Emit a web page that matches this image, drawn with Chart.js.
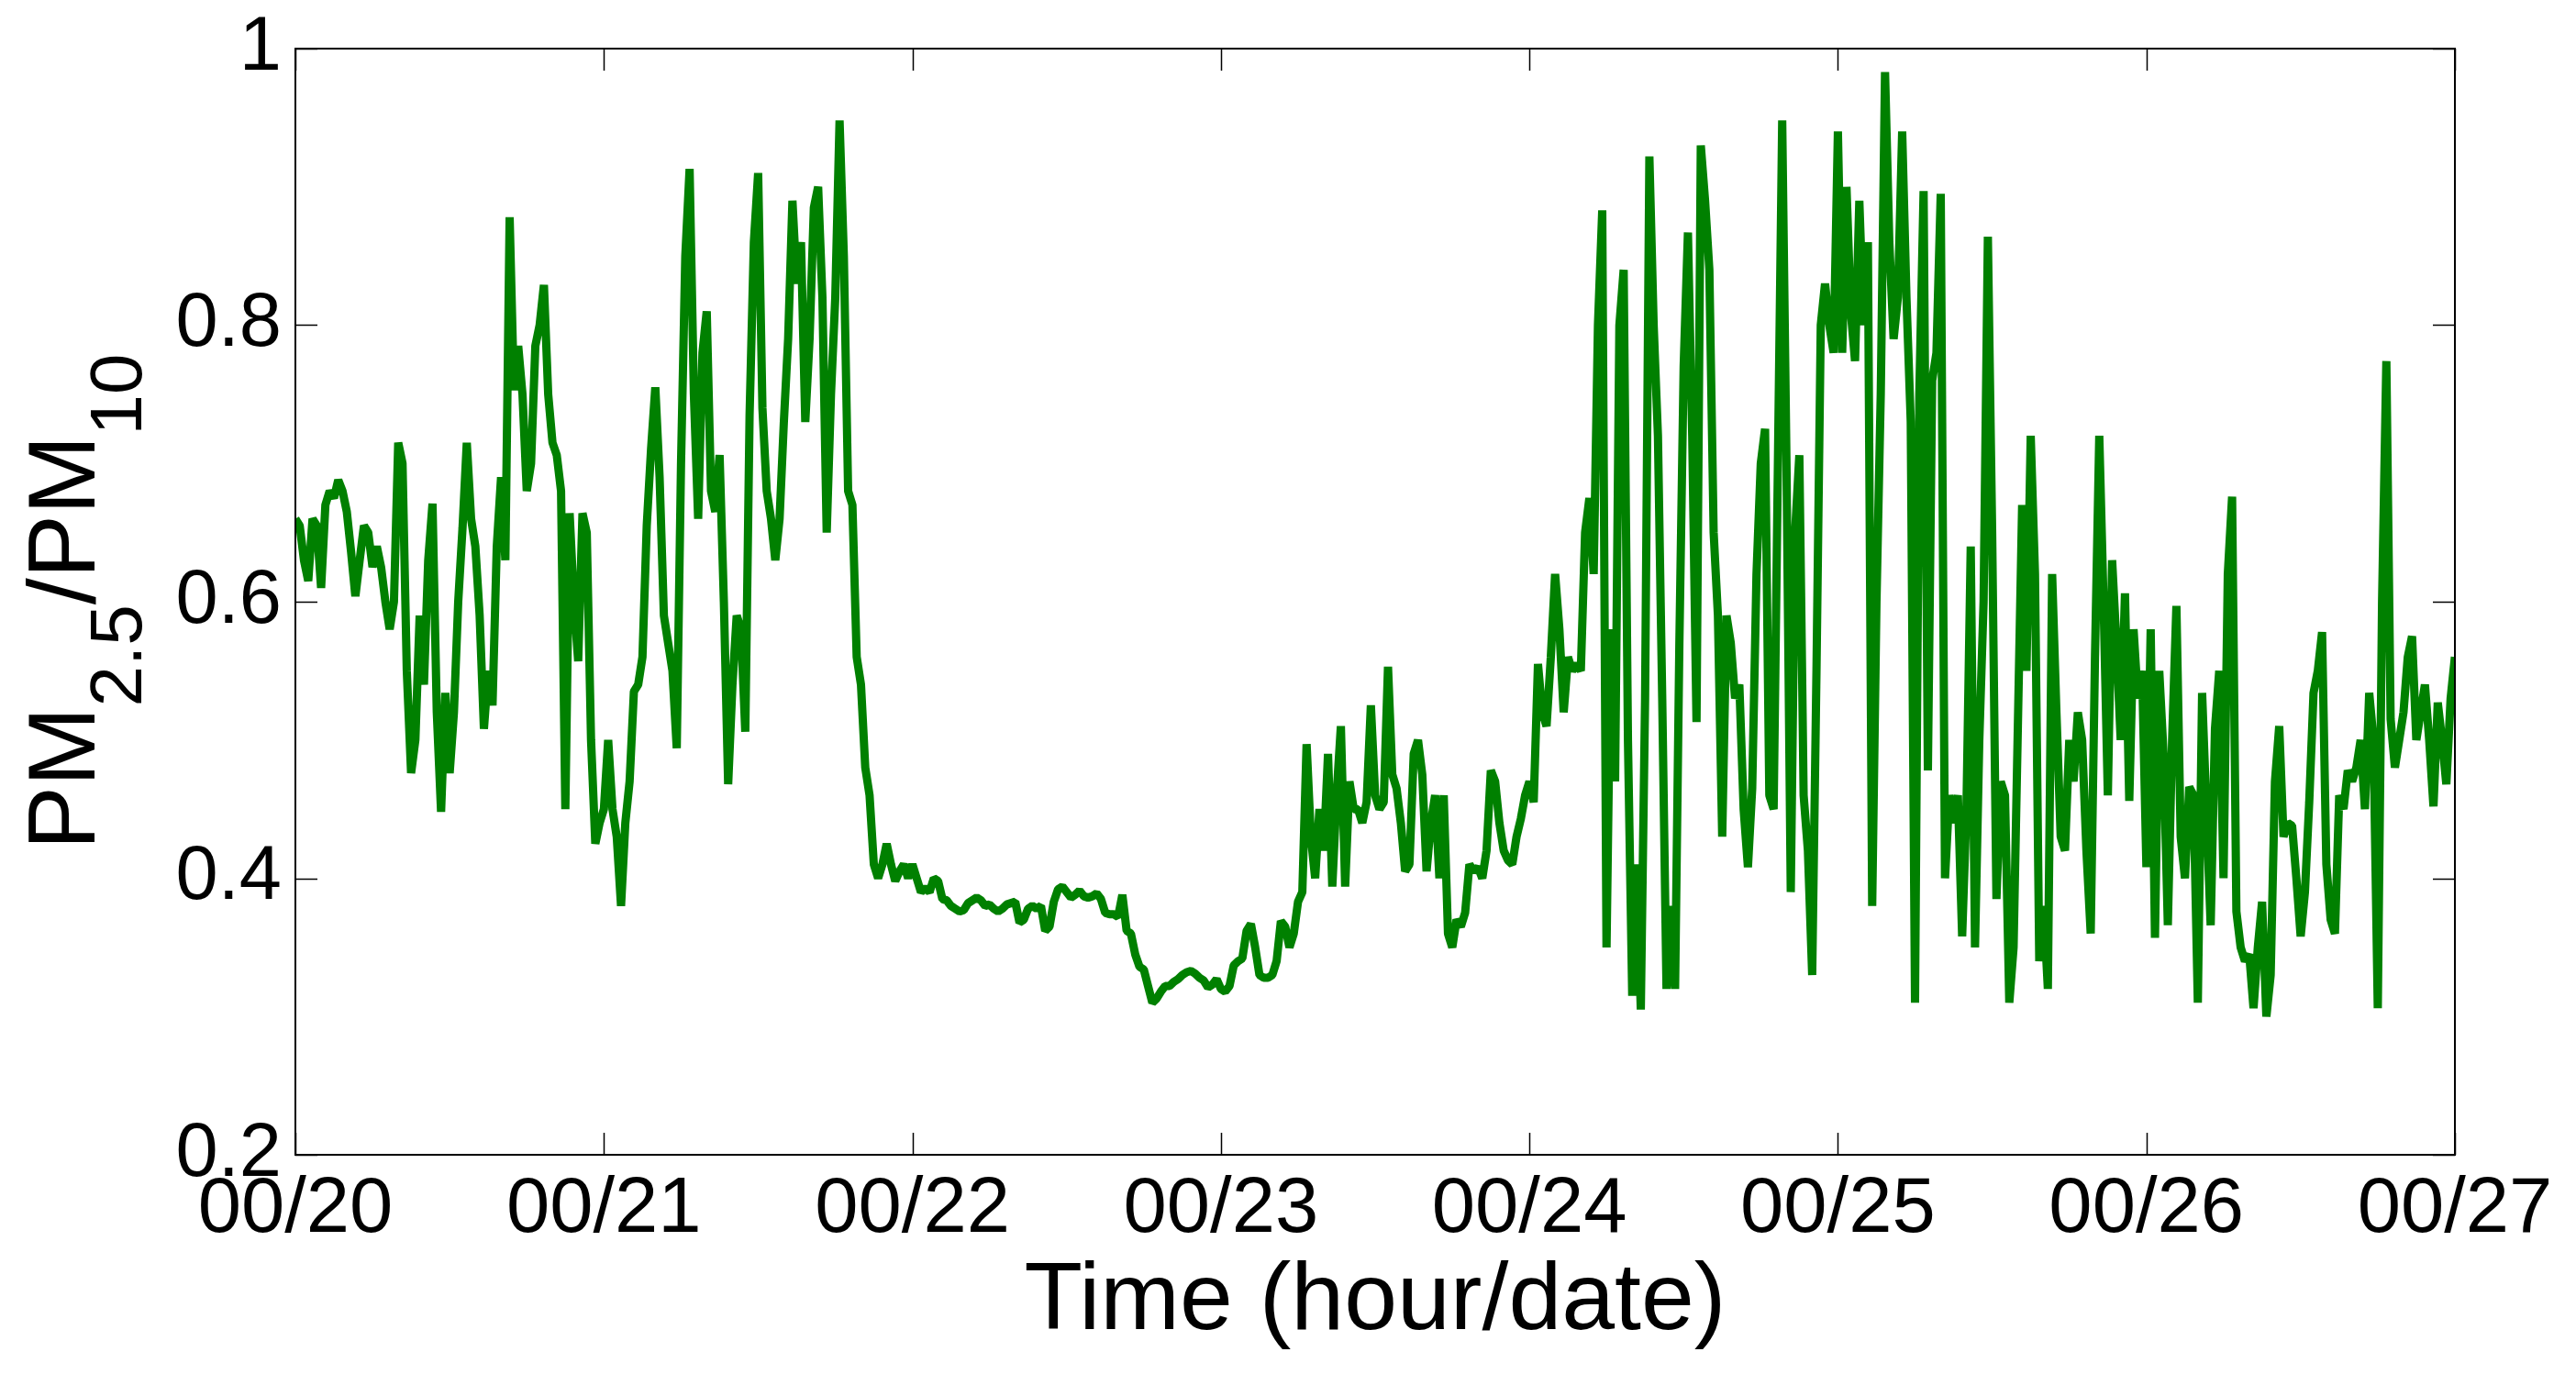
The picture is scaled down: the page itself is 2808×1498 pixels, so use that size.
<!DOCTYPE html>
<html>
<head>
<meta charset="utf-8">
<script src="https://cdn.jsdelivr.net/npm/chart.js@4.4.0/dist/chart.umd.min.js"></script>
<style>
  html, body { margin: 0; padding: 0; background: #fff; }
  #wrap { width: 2808px; height: 1498px; }
</style>
</head>
<body>
<div id="wrap"><canvas id="ratioChart"></canvas></div>
<script>
// PM2.5/PM10 every 20 min, one array per day (00:00 .. 23:40)
const day20 = [
  0.66,0.655,0.63,0.615,0.66,0.655,0.61,0.67,0.68,0.675,0.688,0.68,
  0.665,0.636,0.604,0.63,0.655,0.65,0.625,0.64,0.625,0.60,0.58,0.60,
  0.715,0.70,0.55,0.476,0.50,0.59,0.54,0.63,0.671,0.52,0.448,0.534,
  0.476,0.52,0.60,0.653,0.715,0.66,0.64,0.59,0.508,0.55,0.525,0.64,
  0.69,0.63,0.878,0.753,0.785,0.75,0.68,0.70,0.785,0.80,0.829,0.75,
  0.715,0.706,0.68,0.45,0.664,0.60,0.557,0.664,0.65,0.50,0.425,0.44];
const day21 = [
  0.45,0.50,0.45,0.43,0.38,0.44,0.47,0.535,0.54,0.56,0.655,0.71,
  0.755,0.69,0.59,0.57,0.55,0.494,0.70,0.85,0.913,0.75,0.66,0.78,
  0.81,0.68,0.665,0.706,0.60,0.468,0.54,0.59,0.58,0.506,0.735,0.86,
  0.91,0.74,0.68,0.66,0.63,0.66,0.73,0.79,0.89,0.83,0.86,0.73,
  0.79,0.885,0.90,0.82,0.65,0.75,0.82,0.948,0.85,0.68,0.67,0.56,
  0.54,0.48,0.46,0.41,0.40,0.41,0.425,0.41,0.398,0.405,0.41,0.40];
const day22 = [
  0.41,0.40,0.39,0.393,0.39,0.40,0.398,0.385,0.384,0.38,0.378,0.376,
  0.377,0.382,0.384,0.386,0.384,0.38,0.381,0.378,0.376,0.378,0.381,0.382,
  0.383,0.368,0.37,0.378,0.38,0.378,0.38,0.362,0.365,0.383,0.392,0.394,
  0.39,0.386,0.388,0.391,0.387,0.386,0.387,0.389,0.385,0.375,0.374,0.374,
  0.372,0.388,0.362,0.36,0.345,0.336,0.334,0.322,0.31,0.313,0.318,0.322,
  0.322,0.325,0.327,0.33,0.332,0.333,0.331,0.328,0.326,0.321,0.323,0.327];
const day23 = [
  0.32,0.318,0.322,0.337,0.34,0.342,0.362,0.367,0.35,0.33,0.328,0.328,
  0.33,0.34,0.369,0.365,0.35,0.36,0.383,0.39,0.497,0.43,0.40,0.45,
  0.42,0.49,0.394,0.46,0.51,0.394,0.47,0.45,0.45,0.44,0.455,0.525,
  0.46,0.45,0.455,0.553,0.475,0.465,0.44,0.405,0.41,0.49,0.50,0.475,
  0.405,0.44,0.46,0.40,0.46,0.36,0.35,0.37,0.365,0.375,0.41,0.405,
  0.408,0.40,0.42,0.478,0.47,0.44,0.42,0.413,0.41,0.43,0.443,0.46];
const day24 = [
  0.47,0.455,0.555,0.52,0.51,0.56,0.62,0.58,0.52,0.56,0.55,0.555,
  0.55,0.65,0.675,0.62,0.80,0.883,0.35,0.58,0.47,0.80,0.84,0.50,
  0.315,0.41,0.305,0.53,0.922,0.80,0.72,0.53,0.32,0.38,0.32,0.57,
  0.77,0.867,0.72,0.513,0.93,0.89,0.84,0.65,0.59,0.43,0.59,0.57,
  0.53,0.54,0.45,0.408,0.465,0.62,0.70,0.725,0.46,0.45,0.70,0.948,
  0.70,0.39,0.65,0.706,0.46,0.42,0.33,0.55,0.80,0.83,0.80,0.78];
const day25 = [
  0.94,0.78,0.90,0.81,0.774,0.89,0.80,0.86,0.38,0.60,0.75,0.983,
  0.86,0.79,0.82,0.94,0.82,0.73,0.31,0.75,0.897,0.478,0.76,0.78,
  0.895,0.40,0.46,0.44,0.46,0.358,0.45,0.64,0.35,0.50,0.60,0.864,
  0.65,0.385,0.47,0.46,0.31,0.35,0.51,0.67,0.55,0.72,0.62,0.34,
  0.38,0.32,0.62,0.52,0.43,0.42,0.50,0.47,0.52,0.50,0.42,0.36,
  0.56,0.72,0.60,0.46,0.63,0.57,0.50,0.606,0.456,0.58,0.53,0.55];
const day26 = [
  0.408,0.58,0.357,0.55,0.49,0.366,0.50,0.597,0.43,0.40,0.466,0.46,
  0.31,0.534,0.45,0.366,0.508,0.55,0.40,0.62,0.676,0.376,0.35,0.34,
  0.345,0.306,0.35,0.383,0.30,0.33,0.47,0.51,0.43,0.44,0.438,0.40,
  0.358,0.39,0.455,0.534,0.55,0.578,0.41,0.37,0.36,0.46,0.45,0.478,
  0.47,0.48,0.50,0.45,0.534,0.50,0.306,0.60,0.774,0.515,0.48,0.50,
  0.52,0.56,0.575,0.50,0.52,0.54,0.50,0.452,0.527,0.50,0.468,0.53];
const day27 = [0.56]; // only 00:00

const stepHours = 1 / 3;
const dayLabels = ['00/20','00/21','00/22','00/23','00/24','00/25','00/26','00/27'];
const yTicks = [0.2, 0.4, 0.6, 0.8, 1];

const ratio = [].concat(day20, day21, day22, day23, day24, day25, day26, day27);
const points = ratio.map((v, i) => ({ x: i * stepHours, y: v }));
const xTicks = dayLabels.map((_, i) => i * 24);

const FONT = '"Liberation Sans", Arial, Helvetica, sans-serif';

// matlab style box with inward ticks on all four sides
const axesBox = {
  id: 'axesBox',
  afterDatasetsDraw(chart) {
    const { ctx, chartArea: a, scales } = chart;
    const len = 24;
    ctx.save();
    ctx.strokeStyle = '#000';
    ctx.lineWidth = 2;
    ctx.strokeRect(a.left, a.top, a.right - a.left, a.bottom - a.top);
    ctx.beginPath();
    xTicks.forEach(v => {
      const px = Math.round(scales.x.getPixelForValue(v)) + 0.5;
      ctx.moveTo(px, a.bottom); ctx.lineTo(px, a.bottom - len);
      ctx.moveTo(px, a.top); ctx.lineTo(px, a.top + len);
    });
    yTicks.forEach(v => {
      const py = Math.round(scales.y.getPixelForValue(v)) + 0.5;
      ctx.moveTo(a.left, py); ctx.lineTo(a.left + len, py);
      ctx.moveTo(a.right, py); ctx.lineTo(a.right - len, py);
    });
    ctx.lineWidth = 1.5;
    ctx.stroke();
    ctx.restore();
  }
};

// y title with subscripts: PM2.5/PM10
const yTitle = {
  id: 'yTitle',
  afterDraw(chart) {
    const { ctx, chartArea: a } = chart;
    const parts = [
      ['PM', 104, 0], ['2.5', 80, 51], ['/', 104, 0], ['PM', 104, 0], ['10', 80, 51]
    ];
    ctx.save();
    ctx.fillStyle = '#000';
    ctx.textBaseline = 'alphabetic';
    ctx.textAlign = 'left';
    let total = 0;
    parts.forEach(p => { ctx.font = p[1] + 'px ' + FONT; total += ctx.measureText(p[0]).width; });
    ctx.translate(103, (a.top + a.bottom) / 2);
    ctx.rotate(-Math.PI / 2);
    let x = -total / 2;
    parts.forEach(p => {
      ctx.font = p[1] + 'px ' + FONT;
      ctx.fillText(p[0], x, p[2]);
      x += ctx.measureText(p[0]).width;
    });
    ctx.restore();
  }
};

new Chart(document.getElementById('ratioChart'), {
  type: 'line',
  data: {
    datasets: [{
      data: points,
      borderColor: '#008000',
      borderWidth: 9,
      borderJoinStyle: 'bevel',
      pointRadius: 0,
      tension: 0,
      fill: false
    }]
  },
  options: {
    responsive: true,
    maintainAspectRatio: false,
    animation: false,
    devicePixelRatio: 1,
    layout: { padding: { left: 0, right: 132, top: 53, bottom: 15 } },
    plugins: { legend: { display: false }, tooltip: { enabled: false } },
    scales: {
      x: {
        type: 'linear',
        min: 0,
        max: 168,
        grid: { display: false, drawTicks: false },
        border: { display: false },
        afterBuildTicks: s => { s.ticks = xTicks.map(v => ({ value: v })); },
        afterFit: s => { s.height = 224; s.paddingLeft = 0; s.paddingRight = 0; },
        ticks: {
          color: '#000',
          font: { family: FONT, size: 85 },
          padding: 10,
          maxRotation: 0,
          autoSkip: false,
          callback: v => dayLabels[Math.round(v / 24)]
        },
        title: {
          display: true,
          text: 'Time (hour/date)',
          color: '#000',
          font: { family: FONT, size: 104 },
          padding: { top: 0, bottom: 0 }
        }
      },
      y: {
        min: 0.2,
        max: 1,
        grid: { display: false, drawTicks: false },
        border: { display: false },
        afterBuildTicks: s => { s.ticks = yTicks.map(v => ({ value: v })); },
        afterFit: s => { s.width = 322; s.paddingTop = 0; s.paddingBottom = 0; },
        ticks: {
          color: '#000',
          font: { family: FONT, size: 83 },
          padding: 15,
          callback: v => String(Number(v.toFixed(1)))
        }
      }
    }
  },
  plugins: [axesBox, yTitle]
});
</script>
</body>
</html>
